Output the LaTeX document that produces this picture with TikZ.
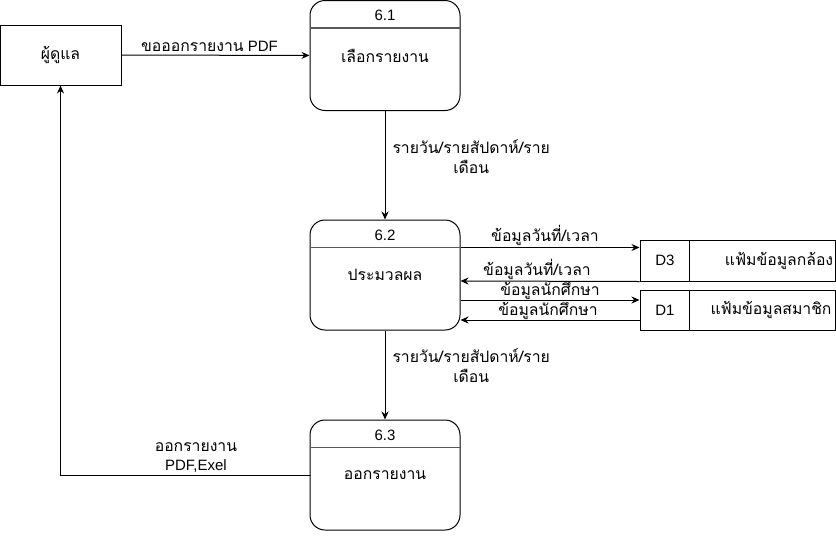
\documentclass[tikz,border=0pt]{standalone}
\usepackage{fontspec}
\setmainfont{Liberation Sans}
\newfontfamily\thaifont[Script=Thai, Scale=1.05]{Loma}
\usetikzlibrary{arrows.meta}
\tikzset{
    every node/.style={font=\fontsize{15}{18}\selectfont, inner sep=1pt}
}
\tikzset{
    process/.style={draw, rounded corners=15pt, minimum width=150pt,
    	minimum height=110pt, line width=1pt},
    entity/.style={draw, minimum width=121pt, minimum height=60pt, line width=1pt},
    datastore/.style={draw, minimum width=195pt, line width=1pt},
    divider/.style={draw=black!65, line width=1.6pt}
}
\tikzset{
    flow/.style={line width=1pt, -{Stealth[length=8pt,width=7pt]}}
}

\begin{document}
\begin{tikzpicture}[x=1pt, y=-1pt]
	\useasboundingbox (0,0) rectangle (836,539);
	\node (admin) [entity] at (60.5,55) {\thaifont ผู้ดูแล};
	\node (p61) [process] at (385,55.5) {\thaifont เลือกรายงาน};
	\node (p62) [process] at (385,275) {\thaifont ประมวลผล};
	\node (p63) [process] at (385,475) {\thaifont ออกรายงาน};
	\node (p61id) at (385,15) {6.1};
	\node (p62id) at (385,235) {6.2};
	\node (p63id) at (385,435) {6.3};
	\node (d3) [datastore, minimum height=41pt] at (737.5,260.5) {};
	\node (d1) [datastore, minimum height=40pt] at (737.5,310) {};
	\node (d3id) at (665,260.5) {D3};
	\node (d3name) at (779,260.5) {\thaifont แฟ้มข้อมูลกล้อง};
	\node (d1id) at (665,310) {D1};
	\node (d1name) at (771,310) {\thaifont แฟ้มข้อมูลสมาชิก};
	
	\draw [divider] ([yshift=-28pt]p61.north west) -- ([yshift=-28pt]p61.north east);
	\draw [divider] ([yshift=-28pt]p62.north west) -- ([yshift=-28pt]p62.north east);
	\draw [divider] ([yshift=-28pt]p63.north west) -- ([yshift=-28pt]p63.north east);
	\draw [line width=1pt] ([xshift=50pt]d3.north west) -- ([xshift=50pt]d3.south west);
	\draw [line width=1pt] ([xshift=50pt]d1.north west) -- ([xshift=50pt]d1.south west);
	
	\draw [flow] (admin) -- (p61)
		node [midway, above=2pt, xshift=-6pt] {{\thaifont ขอออกรายงาน} PDF};
	\draw [flow] (p61) -- (p62)
		node [pos=0.42, right=6pt, align=center] {\thaifont รายวัน/รายสัปดาห์/ราย\\[2pt]\thaifont เดือน};
	\draw [flow] (p62) -- (p63)
		node [pos=0.4, right=6pt, align=center] {\thaifont รายวัน/รายสัปดาห์/ราย\\[2pt]\thaifont เดือน};
	\draw [flow] (p63.west) -| (admin.south)
		node [pos=0.228, above=1pt, align=center] {\thaifont ออกรายงาน\\[1pt]PDF,Exel};
	
	\draw [flow] ([yshift=-28pt]p62.north east) -- ([yshift=-8pt]d3.north west)
		node [midway, above=0pt, xshift=-5pt] {\thaifont ข้อมูลวันที่/เวลา};
	\draw [flow] (d3.south west) -- ([yshift=-6pt]p62.east)
		node [midway, above=0pt, xshift=-13pt] {\thaifont ข้อมูลวันที่/เวลา};
	\draw [flow] ([yshift=-25pt]p62.east) -- ([yshift=10pt]d1.west)
		node [midway, above=-1pt] {\thaifont ข้อมูลนักศึกษา};
	\draw [flow] ([yshift=-10pt]d1.west) -- ([yshift=-45pt]p62.east)
		node [midway, above=-1pt, xshift=-2pt] {\thaifont ข้อมูลนักศึกษา};
\end{tikzpicture}
\end{document}
